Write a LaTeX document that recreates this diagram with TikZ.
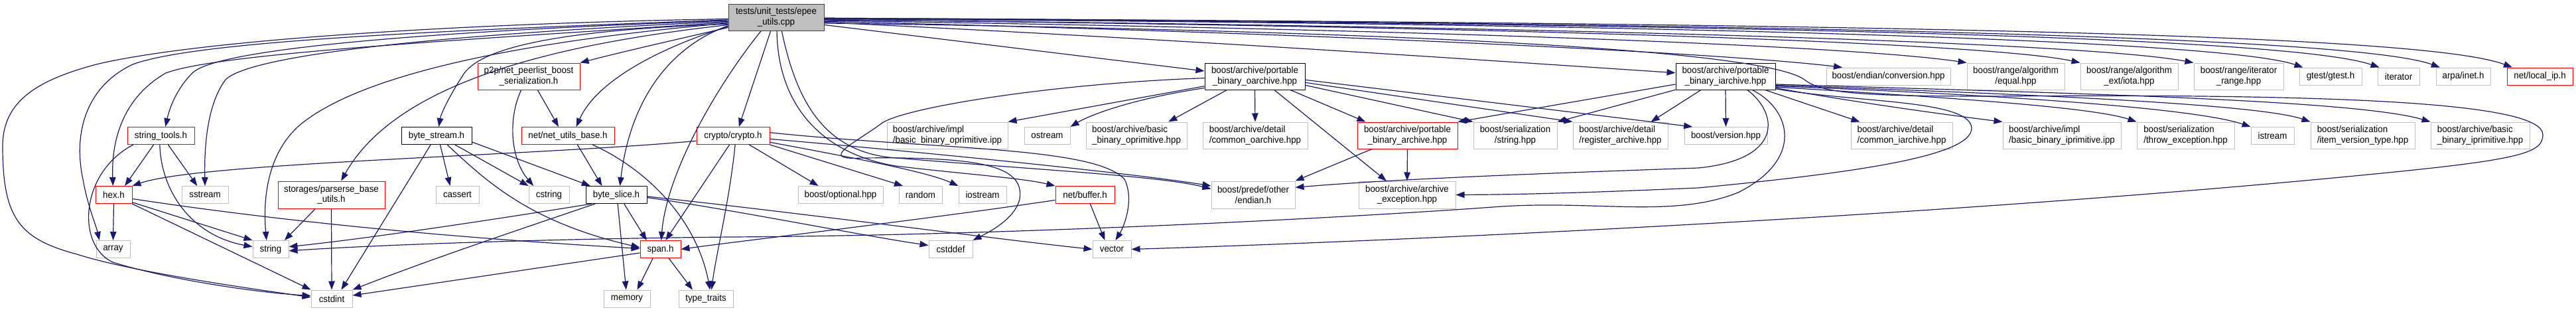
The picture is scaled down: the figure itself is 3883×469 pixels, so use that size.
\documentclass[tikz,border=0pt]{standalone}
\usepackage{fontspec}
\newfontfamily\nf{Liberation Sans}[FakeStretch=0.95]
\usetikzlibrary{arrows.meta}
\definecolor{edgeblue}{HTML}{191970}
\definecolor{boxgray}{HTML}{BFBFBF}
\definecolor{boxred}{HTML}{FF0000}
\definecolor{mainfill}{HTML}{BFBFBF}
\definecolor{mainborder}{HTML}{404040}
\tikzset{
  nb/.style={draw, line width=1pt, inner sep=0pt, font=\nf\fontsize{14pt}{15.5pt}\selectfont, align=center, fill=white},
  gbox/.style={nb, draw=boxgray},
  rbox/.style={nb, draw=boxred},
  kbox/.style={nb, draw=black},
  mbox/.style={nb, draw=mainborder, fill=mainfill},
  lft/.style={align=left},
  edg/.style={draw=edgeblue, line width=1.2pt, -{Triangle[length=13pt,width=9.5pt]}},
}
\newcommand\mynode[6]{\node[#1, minimum width=#2pt, minimum height=#3pt] (#4) at (#5) {#6};}
\begin{document}
\begin{tikzpicture}[x=1pt,y=-1pt]
\useasboundingbox (0,0) rectangle (3883,469);
% row 0
\mynode{mbox}{144}{40}{main}{1170,26}{tests/unit\_tests/epee\\\_utils.cpp}
% row 1
\mynode{rbox}{154}{40}{p2p}{797,115}{p2p/net\_peerlist\_boost\\\_serialization.h}
\mynode{kbox}{151}{40}{oarchive}{1891.5,115}{boost/archive/portable\\\_binary\_oarchive.hpp}
\mynode{kbox}{150}{40}{iarchive}{2601,115}{boost/archive/portable\\\_binary\_iarchive.hpp}
\mynode{gbox}{187}{26}{endianconv}{2846.5,115}{boost/endian/conversion.hpp}
\mynode{gbox}{147}{40}{equal}{3038.5,115}{boost/range/algorithm\\/equal.hpp}
\mynode{gbox}{147}{40}{iota}{3209.5,115}{boost/range/algorithm\\\_ext/iota.hpp}
\mynode{gbox}{135}{40}{itrange}{3374.5,115}{boost/range/iterator\\\_range.hpp}
\mynode{gbox}{94}{26}{gtest}{3513,115}{gtest/gtest.h}
\mynode{gbox}{63}{26}{iterator}{3615.5,115}{iterator}
\mynode{gbox}{82}{26}{arpa}{3713,115}{arpa/inet.h}
\mynode{rbox}{99}{26}{localip}{3828.5,115}{net/local\_ip.h}
% row 2
\mynode{rbox}{101}{26}{stringtools}{242.5,204.5}{string\_tools.h}
\mynode{kbox}{106}{26}{bytestream}{658,204.5}{byte\_stream.h}
\mynode{rbox}{140}{26}{netutils}{856,204.5}{net/net\_utils\_base.h}
\mynode{rbox}{110}{26}{crypto}{1105,204.5}{crypto/crypto.h}
\mynode{gbox,lft}{182}{40}{bboipp}{1428,204}{boost/archive/impl\\/basic\_binary\_oprimitive.ipp}
\mynode{gbox}{69}{26}{ostream}{1578.5,204.5}{ostream}
\mynode{gbox,lft}{152}{40}{bbohpp}{1713,204}{boost/archive/basic\\\_binary\_oprimitive.hpp}
\mynode{gbox,lft}{158}{40}{commonoa}{1892,204}{boost/archive/detail\\/common\_oarchive.hpp}
\mynode{rbox}{151}{40}{pba}{2121.5,204}{boost/archive/portable\\\_binary\_archive.hpp}
\mynode{gbox}{126}{40}{serstring}{2284,204}{boost/serialization\\/string.hpp}
\mynode{gbox,lft}{143}{40}{register}{2442.5,204}{boost/archive/detail\\/register\_archive.hpp}
\mynode{gbox}{125}{26}{version}{2601.5,204.5}{boost/version.hpp}
\mynode{gbox,lft}{153}{40}{commonia}{2866.5,204}{boost/archive/detail\\/common\_iarchive.hpp}
\mynode{gbox,lft}{178}{40}{bbiipp}{3108,204}{boost/archive/impl\\/basic\_binary\_iprimitive.ipp}
\mynode{gbox,lft}{147}{40}{throwexc}{3294.5,204}{boost/serialization\\/throw\_exception.hpp}
\mynode{gbox}{65}{26}{istream}{3425.5,204.5}{istream}
\mynode{gbox,lft}{157}{40}{itemver}{3561.5,204}{boost/serialization\\/item\_version\_type.hpp}
\mynode{gbox,lft}{149}{40}{bbihpp}{3738.5,204}{boost/archive/basic\\\_binary\_iprimitive.hpp}
% row 3
\mynode{rbox}{55}{26}{hex}{171.5,293.5}{hex.h}
\mynode{gbox}{70}{26}{sstream}{309,293.5}{sstream}
\mynode{rbox}{161}{41}{storages}{499.5,293.5}{storages/parserse\_base\\\_utils.h}
\mynode{gbox}{65}{26}{cassert}{689.5,293.5}{cassert}
\mynode{gbox}{61}{26}{cstring}{827.5,293.5}{cstring}
\mynode{kbox}{92}{26}{byteslice}{929,293.5}{byte\_slice.h}
\mynode{gbox}{128}{26}{optional}{1267,293.5}{boost/optional.hpp}
\mynode{gbox}{65}{26}{random}{1387.5,293.5}{random}
\mynode{gbox}{72}{26}{iostream}{1481,293.5}{iostream}
\mynode{rbox}{89}{26}{netbuffer}{1635.5,293.5}{net/buffer.h}
\mynode{gbox}{126}{41}{predef}{1889,293.5}{boost/predef/other\\/endian.h}
\mynode{gbox}{146}{41}{archexc}{2121,293.5}{boost/archive/archive\\\_exception.hpp}
% row 4
\mynode{gbox}{51}{26}{array}{170.5,375.5}{array}
\mynode{gbox}{54}{26}{string}{408,375.5}{string}
\mynode{rbox}{61}{26}{span}{995.5,375.5}{span.h}
\mynode{gbox}{66}{26}{cstddef}{1433,375.5}{cstddef}
\mynode{gbox}{58}{26}{vector}{1676,375.5}{vector}
% row 5
\mynode{gbox}{62}{26}{cstdint}{500,450}{cstdint}
\mynode{gbox}{70}{26}{memory}{945,450}{memory}
\mynode{gbox}{82}{26}{typetraits}{1064,450}{type\_traits}

% ---- edges from main, left side
\draw[edg] (main.182) .. controls (700,35) and (300,60) .. (145,97) .. controls (60,120) and (4,150) .. (4,220) .. controls (4,330) and (30,360) .. (116,383) .. controls (200,410) and (380,435) .. (cstdint.176);
\draw[edg] (main.183) .. controls (700,45) and (300,60) .. (200,97) .. controls (130,130) and (110,200) .. (125,270) .. controls (132,310) and (145,340) .. (array.147);
\draw[edg] (main.184) .. controls (700,45) and (330,70) .. (290,110) .. controls (265,135) and (255,165) .. (stringtools.63);
\draw[edg] (main.185) .. controls (700,50) and (380,80) .. (340,120) .. controls (310,160) and (308,230) .. (sstream.north);
\draw[edg] (main.186) .. controls (700,60) and (330,80) .. (250,110) .. controls (180,150) and (168,220) .. (hex.95);
\draw[edg] (main.187) .. controls (700,70) and (520,130) .. (450,190) .. controls (395,240) and (398,320) .. (string.115);
\draw[edg] (main.188) .. controls (850,45) and (730,70) .. (700,110) .. controls (680,140) and (665,170) .. (bytestream.76);
\draw[edg] (main.189) .. controls (850,65) and (600,120) .. (storages.55);
\draw[edg] (main.190) .. controls (1010,70) and (950,150) .. (byteslice.68);
\draw[edg] (main.191) .. controls (1000,70) and (900,120) .. (netutils.47);
\draw[edg] (main.192) .. controls (1040,55) and (950,75) .. (p2p.north east);
% ---- edges from main, bottom
\draw[edg] (main.222) .. controls (1080,130) and (1005,260) .. (span.85);
\draw[edg] (main.248) -- (crypto.57);
\draw[edg] (main.273) .. controls (1172,150) and (1230,230) .. (1350,250) .. controls (1450,262) and (1540,268) .. (netbuffer.north west);
\draw[edg] (main.292) .. controls (1200,150) and (1240,225) .. (1340,237) .. controls (1550,255) and (1750,265) .. (predef.172);
% ---- edges from main, right side
\draw[edg] (main.-9) -- (oarchive.174);
\draw[edg] (main.-6) .. controls (1800,60) and (2300,95) .. (iarchive.176);
\draw[edg] (main.-5) .. controls (2000,50) and (2600,80) .. (endianconv.169);
\draw[edg] (main.-4) .. controls (2200,45) and (2800,70) .. (equal.north west);
\draw[edg] (main.-3.5) .. controls (2300,40) and (3000,65) .. (iota.north west);
\draw[edg] (main.-3) .. controls (2400,40) and (3150,65) .. (itrange.north west);
\draw[edg] (main.-2.5) .. controls (2500,35) and (3350,60) .. (gtest.162);
\draw[edg] (main.-2) .. controls (2600,35) and (3450,55) .. (iterator.155);
\draw[edg] (main.-1.5) .. controls (2700,35) and (3550,55) .. (arpa.159);
\draw[edg] (main.-1) .. controls (2800,35) and (3650,50) .. (localip.162);
\draw[edg] (main.-7) .. controls (2000,45) and (2650,70) .. (2720,120) .. controls (2745,140) and (2800,145) .. (3000,145) .. controls (3600,140) and (3833,160) .. (3833,203) .. controls (3833,230) and (3800,240) .. (3600,260) .. controls (3000,320) and (2200,360) .. (vector.east);

% ---- crypto
\draw[edg] (crypto.188) .. controls (800,235) and (300,245) .. (hex.north east);
\draw[edg] (crypto.248) -- (span.60);
\draw[edg] (crypto.283) .. controls (1100,300) and (1080,380) .. (typetraits.58);
\draw[edg] (crypto.-29) -- (optional.158);
\draw[edg] (crypto.south east) -- (random.153);
\draw[edg] (crypto.-10) .. controls (1300,240) and (1400,260) .. (iostream.north west);
\draw[edg] (crypto.-5) .. controls (1400,230) and (1700,260) .. (predef.168);
\draw[edg] (crypto.5) .. controls (1400,225) and (1650,220) .. (1695,270) .. controls (1710,300) and (1695,340) .. (vector.68);

% ---- oarchive
\draw[edg] (oarchive.182) .. controls (1600,125) and (1370,160) .. (1330,185) .. controls (1290,215) and (1230,242) .. (1300,238) .. controls (1480,236) and (1545,250) .. (1537,300) .. controls (1530,330) and (1490,350) .. (cstddef.north east);
\draw[edg] (oarchive.191) -- (bboipp.north east);
\draw[edg] (oarchive.193) .. controls (1700,150) and (1640,175) .. (ostream.north east);
\draw[edg] (oarchive.206) -- (bbohpp.23);
\draw[edg] (oarchive.south) -- (commonoa.north);
\draw[edg] (oarchive.339) -- (pba.162);
\draw[edg] (oarchive.325) -- (archexc.146);
\draw[edg] (oarchive.-10) -- (serstring.north west);
\draw[edg] (oarchive.-7) -- (register.north west);
\draw[edg] (oarchive.-4) -- (version.165);
% ---- pba
\draw[edg] (pba.south) -- (archexc.north);
\draw[edg] (pba.201) -- (predef.north east);
% ---- iarchive
\draw[edg] (iarchive.189) -- (pba.north east);
\draw[edg] (iarchive.195) -- (serstring.north east);
\draw[edg] (iarchive.209) -- (register.24);
\draw[edg] (iarchive.south) -- (version.north);
\draw[edg] (iarchive.341) -- (commonia.162);
\draw[edg] (iarchive.-13) .. controls (2800,155) and (2950,175) .. (bbiipp.north west);
\draw[edg] (iarchive.-12) .. controls (2900,145) and (3150,160) .. (throwexc.north west);
\draw[edg] (iarchive.-11) .. controls (2950,140) and (3300,160) .. (istream.north west);
\draw[edg] (iarchive.-10) .. controls (3000,140) and (3400,155) .. (itemver.north west);
\draw[edg] (iarchive.-9) .. controls (3100,140) and (3550,150) .. (bbihpp.north west);
\draw[edg] (iarchive.328) .. controls (2680,170) and (2690,240) .. (2560,253) .. controls (2300,262) and (2100,270) .. (predef.10);
\draw[edg] (iarchive.333) .. controls (2700,165) and (2720,240) .. (2620,290) .. controls (2520,330) and (2400,300) .. (2250,312) .. controls (2000,330) and (1500,355) .. (1100,357) .. controls (800,360) and (550,370) .. (string.-5);
\draw[edg] (iarchive.-14) .. controls (2800,155) and (2970,150) .. (2972,193) .. controls (2972,235) and (2800,260) .. (2560,283) .. controls (2400,290) and (2300,293) .. (archexc.east);

% ---- byte_slice
\draw[edg] (byteslice.-49) -- (span.147);
\draw[edg] (byteslice.-81) -- (memory.95);
\draw[edg] (byteslice.200) .. controls (750,330) and (550,360) .. (string.8);
\draw[edg] (byteslice.203) .. controls (800,340) and (650,390) .. (cstdint.north east);
\draw[edg] (byteslice.-5) .. controls (1100,315) and (1300,355) .. (cstddef.170);
\draw[edg] (byteslice.-3) .. controls (1200,320) and (1500,360) .. (vector.west);
% ---- span
\draw[edg] (span.230) -- (memory.41);
\draw[edg] (span.-47) -- (typetraits.146);
\draw[edg] (span.190) -- (cstdint.9);
% ---- net/buffer.h
\draw[edg] (netbuffer.190) .. controls (1400,330) and (1100,365) .. (span.east);
\draw[edg] (netbuffer.-60) -- (vector.128);
% ---- net_utils_base
\draw[edg] (netutils.-43) -- (byteslice.148);
\draw[edg] (netutils.-20) .. controls (975,255) and (1050,330) .. (typetraits.65);
% ---- p2p
\draw[edg] (p2p.241) .. controls (765,180) and (770,240) .. (cstring.150);
\draw[edg] (p2p.-57) -- (netutils.136);
% ---- byte_stream
\draw[edg] (bytestream.237) -- (cstdint.43);
\draw[edg] (bytestream.-68) -- (cassert.129);
\draw[edg] (bytestream.-40) .. controls (735,275) and (800,335) .. (span.175);
\draw[edg] (bytestream.-26) -- (cstring.north west);
\draw[edg] (bytestream.-10) -- (byteslice.161);
% ---- string_tools
\draw[edg] (stringtools.231) -- (hex.39);
\draw[edg] (stringtools.-51) -- (sstream.131);
\draw[edg] (stringtools.263) .. controls (243,290) and (290,355) .. (string.172);
\draw[edg] (stringtools.198) .. controls (120,260) and (115,370) .. (170,395) .. controls (250,420) and (380,440) .. (cstdint.172);
% ---- hex
\draw[edg] (hex.south) -- (array.north);
\draw[edg] (hex.-22) -- (string.north west);
\draw[edg] (hex.-26) -- (cstdint.north west);
\draw[edg] (hex.-12) .. controls (500,345) and (800,365) .. (span.178);
% ---- storages
\draw[edg] (storages.221) -- (string.33);
\draw[edg] (storages.south) -- (cstdint.north);
\end{tikzpicture}
\end{document}
